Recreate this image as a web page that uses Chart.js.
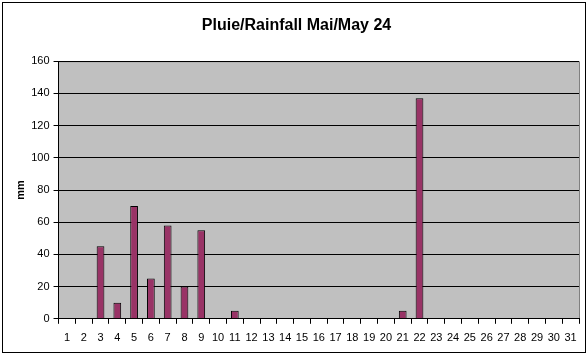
<!DOCTYPE html>
<html>
<head>
<meta charset="utf-8">
<script src="https://cdn.jsdelivr.net/npm/chart.js@4/dist/chart.umd.min.js"></script>
<style>
  html, body { margin: 0; padding: 0; background: #fff; }
  #wrap { width: 588px; height: 355px; position: relative; }
</style>
</head>
<body>
<div id="wrap"><canvas id="rain"></canvas></div>
<script>
// day-of-month categories and rainfall in mm
const days = Array.from({ length: 31 }, (_, i) => String(i + 1));
const rainfall = [0, 0, 45, 10, 70, 25, 58, 20, 55, 0, 5, 0, 0, 0, 0, 0, 0, 0, 0, 0, 5, 137, 0, 0, 0, 0, 0, 0, 0, 0, 0];
const yTicks = [0, 20, 40, 60, 80, 100, 120, 140, 160];

Chart.defaults.font.family = "'Liberation Sans', Arial, sans-serif";
Chart.defaults.color = '#000';

// grey plot area + outer frame, Excel style
const excelFrame = {
  id: 'excelFrame',
  beforeDraw(chart) {
    const { ctx, chartArea: a } = chart;
    ctx.save();
    ctx.fillStyle = '#c0c0c0';
    ctx.fillRect(a.left, a.top, a.right - a.left, a.bottom - a.top);
    ctx.strokeStyle = '#808080';
    ctx.lineWidth = 1;
    ctx.beginPath();
    ctx.moveTo(a.left, a.top + 0.5);
    ctx.lineTo(a.right + 0.5, a.top + 0.5);
    ctx.lineTo(a.right + 0.5, a.bottom);
    ctx.stroke();
    ctx.strokeStyle = '#000';
    ctx.strokeRect(2.5, 2.5, chart.width - 5, chart.height - 5);
    ctx.restore();
  }
};

new Chart(document.getElementById('rain'), {
  type: 'bar',
  data: {
    labels: days,
    datasets: [{
      data: rainfall,
      backgroundColor: '#993366',
      borderColor: '#000',
      borderWidth: 1,
      barPercentage: 0.46,
      categoryPercentage: 1
    }]
  },
  options: {
    responsive: true,
    maintainAspectRatio: false,
    animation: false,
    layout: { padding: { left: 14, right: 9, top: 6, bottom: 2 } },
    scales: {
      x: {
        grid: { drawOnChartArea: false, drawTicks: true, tickLength: 5, color: '#000', offset: true },
        border: { color: '#000' },
        ticks: { font: { size: 11 }, padding: 8, maxRotation: 0, autoSkip: false }
      },
      y: {
        min: 0,
        max: 160,
        afterBuildTicks(axis) { axis.ticks = yTicks.map(v => ({ value: v })); },
        grid: { color: '#000', tickLength: 5 },
        border: { color: '#000' },
        ticks: { font: { size: 11 }, padding: 4 },
        title: { display: true, text: 'mm', font: { size: 11, weight: 'bold' }, padding: { top: 0, bottom: 0 } }
      }
    },
    plugins: {
      legend: { display: false },
      tooltip: { enabled: false },
      title: {
        display: true,
        text: 'Pluie/Rainfall Mai/May 24',
        font: { size: 16, weight: 'bold' },
        color: '#000',
        padding: { top: 10, bottom: 26 }
      }
    }
  },
  plugins: [excelFrame]
});
</script>
</body>
</html>
